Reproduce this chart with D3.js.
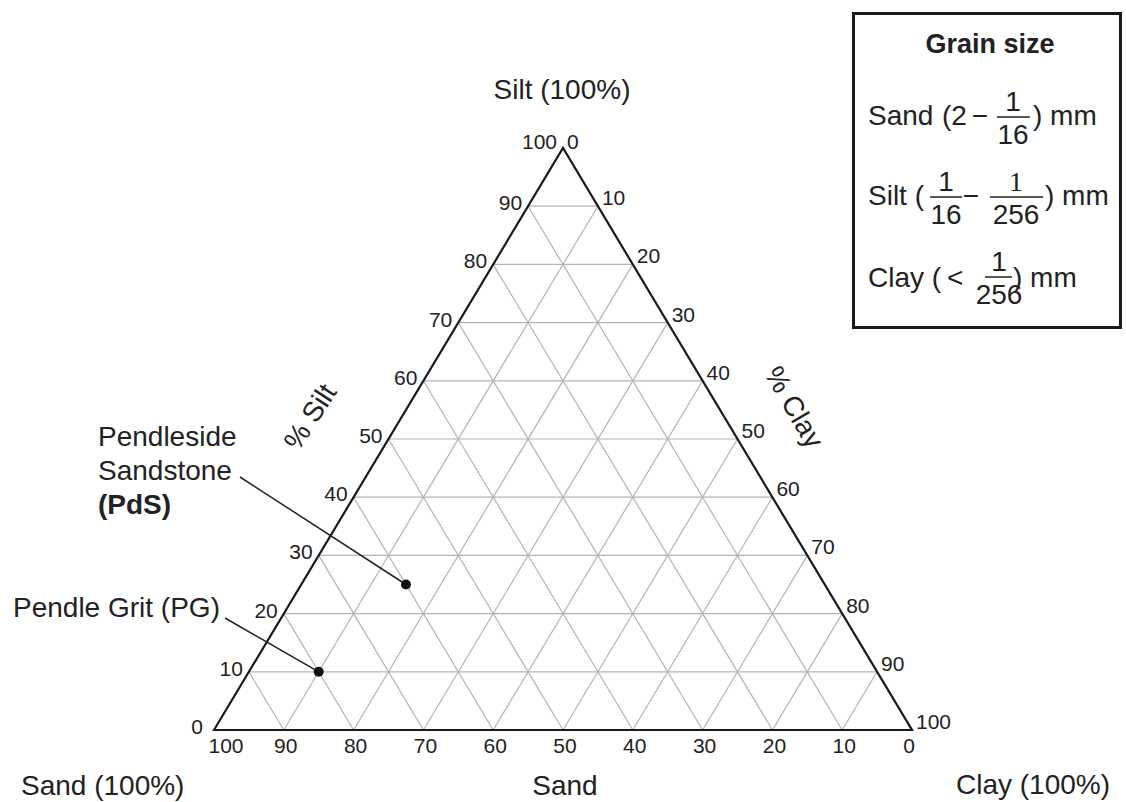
<!DOCTYPE html>
<html lang="en">
<head>
	<title>Ternary diagram - sand, silt, clay</title>
	<script src="https://d3js.org/d3.v7.min.js" charset="utf-8"></script>
	<style>
		body { margin: 0; background: #fff; }
		text {
			font-family: "Liberation Sans", Arial, sans-serif;
			fill: #222;
		}
	</style>
</head>

<body>
<script>
	// Chart data
	var tickValues = [0, 10, 20, 30, 40, 50, 60, 70, 80, 90, 100];
	var gridValues = [10, 20, 30, 40, 50, 60, 70, 80, 90];
	var sampleNames = ["Pendle Grit (PG)", "Pendleside Sandstone (PdS)"];
	var sampleSand = [80, 60];
	var sampleSilt = [10, 25];
	var sampleClay = [10, 15];

	var w = 1126;
	var h = 802;

	// x position comes from clay + silt/2, y from silt
	var xScale = d3.scaleLinear().domain([0, 100]).range([214, 912]);
	var yScale = d3.scaleLinear().domain([0, 100]).range([730, 148]);

	function px(clay, silt) { return xScale(clay + silt / 2); }
	function py(silt) { return yScale(silt); }

	var svg = d3.select("body")
		.append("svg")
		.attr("width", w)
		.attr("height", h);

	// Grid lines
	var grid = svg.append("g").attr("stroke", "#b3b3b3").attr("stroke-width", 1.2);
	gridValues.forEach(function(v) {
		// constant silt
		grid.append("line")
			.attr("x1", px(0, v)).attr("y1", py(v))
			.attr("x2", px(100 - v, v)).attr("y2", py(v));
		// constant clay
		grid.append("line")
			.attr("x1", px(v, 0)).attr("y1", py(0))
			.attr("x2", px(v, 100 - v)).attr("y2", py(100 - v));
		// constant sand
		grid.append("line")
			.attr("x1", px(100 - v, 0)).attr("y1", py(0))
			.attr("x2", px(0, 100 - v)).attr("y2", py(100 - v));
	});

	// Triangle outline
	svg.append("path")
		.attr("d", "M" + px(0, 0) + "," + py(0) + "L" + px(0, 100) + "," + py(100) + "L" + px(100, 0) + "," + py(0) + "Z")
		.attr("fill", "none")
		.attr("stroke", "#1a1a1a")
		.attr("stroke-width", 2.2)
		.attr("stroke-linejoin", "miter");

	// Bottom ticks (sand)
	svg.selectAll(".tickB")
		.data(tickValues)
		.enter()
		.append("text")
		.attr("x", function(d) { return px(100 - d, 0) + (d === 100 ? 12 : d === 0 ? -3 : 2); })
		.attr("y", 753)
		.attr("text-anchor", "middle")
		.attr("font-size", 21)
		.text(function(d) { return d; });

	// Left ticks (silt)
	svg.selectAll(".tickL")
		.data(tickValues)
		.enter()
		.append("text")
		.attr("x", function(d) { return px(0, d) - (d === 0 ? 11 : 6); })
		.attr("y", function(d) { return py(d) + (d === 100 ? 1 : 4); })
		.attr("text-anchor", "end")
		.attr("font-size", 21)
		.text(function(d) { return d; });

	// Right ticks (clay)
	svg.selectAll(".tickR")
		.data(tickValues)
		.enter()
		.append("text")
		.attr("x", function(d) { return px(d, 100 - d) + 4; })
		.attr("y", function(d) { return py(100 - d) + (d === 0 ? 1 : -1); })
		.attr("text-anchor", "start")
		.attr("font-size", 21)
		.text(function(d) { return d; });

	// Corner and axis labels
	svg.append("text").attr("x", 562).attr("y", 99).attr("text-anchor", "middle")
		.attr("font-size", 28).text("Silt (100%)");
	svg.append("text").attr("x", 21).attr("y", 795)
		.attr("font-size", 28).text("Sand (100%)");
	svg.append("text").attr("x", 565).attr("y", 795).attr("text-anchor", "middle")
		.attr("font-size", 28).text("Sand");
	svg.append("text").attr("x", 1110).attr("y", 794).attr("text-anchor", "end")
		.attr("font-size", 28).text("Clay (100%)");
	svg.append("text").attr("text-anchor", "middle").attr("font-size", 28)
		.attr("transform", "translate(318,422) rotate(-57)").text("% Silt");
	svg.append("text").attr("text-anchor", "middle").attr("font-size", 28)
		.attr("transform", "translate(786,412) rotate(60)").text("% Clay");

	// Sample points with leader lines
	var leaderStart = [[225, 618], [240, 477]];
	svg.selectAll(".leader")
		.data(sampleNames)
		.enter()
		.append("line")
		.attr("x1", function(d, i) { return leaderStart[i][0]; })
		.attr("y1", function(d, i) { return leaderStart[i][1]; })
		.attr("x2", function(d, i) { return px(sampleClay[i], sampleSilt[i]); })
		.attr("y2", function(d, i) { return py(sampleSilt[i]); })
		.attr("stroke", "#222")
		.attr("stroke-width", 1.5);

	svg.selectAll(".dot")
		.data(sampleNames)
		.enter()
		.append("circle")
		.attr("cx", function(d, i) { return px(sampleClay[i], sampleSilt[i]); })
		.attr("cy", function(d, i) { return py(sampleSilt[i]); })
		.attr("r", 5)
		.attr("fill", "#111");

	svg.append("text").attr("x", 13).attr("y", 617).attr("font-size", 28).text(sampleNames[0]);
	svg.append("text").attr("x", 98).attr("y", 446).attr("font-size", 28).text("Pendleside");
	svg.append("text").attr("x", 98).attr("y", 480).attr("font-size", 28).text("Sandstone");
	svg.append("text").attr("x", 98).attr("y", 514).attr("font-size", 28).attr("font-weight", "bold").text("(PdS)");

	// Grain size box
	svg.append("rect")
		.attr("x", 853.5).attr("y", 13.5)
		.attr("width", 267).attr("height", 314)
		.attr("fill", "#fff")
		.attr("stroke", "#1a1a1a")
		.attr("stroke-width", 3);

	svg.append("text").attr("x", 990).attr("y", 53).attr("text-anchor", "middle")
		.attr("font-size", 27).attr("font-weight", "bold").text("Grain size");

	function frac(cx, bar, x1, x2, num, den, numFont) {
		svg.append("line").attr("x1", x1).attr("x2", x2).attr("y1", bar).attr("y2", bar)
			.attr("stroke", "#222").attr("stroke-width", 1.5);
		svg.append("text").attr("x", cx).attr("y", bar - 6).attr("text-anchor", "middle")
			.attr("font-size", 28).style("font-family", numFont || null).text(num);
		svg.append("text").attr("x", cx).attr("y", bar + 27).attr("text-anchor", "middle")
			.attr("font-size", 28).text(den);
	}

	// Sand line
	svg.append("text").attr("x", 868).attr("y", 125).attr("font-size", 28).text("Sand");
	svg.append("text").attr("x", 942).attr("y", 125).attr("font-size", 28).text("(2");
	svg.append("text").attr("x", 980).attr("y", 125).attr("text-anchor", "middle").attr("font-size", 28).text("\u2212");
	frac(1013, 117, 997, 1030, "1", "16");
	svg.append("text").attr("x", 1033).attr("y", 125).attr("font-size", 28).text(") mm");

	// Silt line
	svg.append("text").attr("x", 868).attr("y", 205).attr("font-size", 28).text("Silt (");
	frac(946, 197, 930, 962, "1", "16");
	svg.append("text").attr("x", 971).attr("y", 205).attr("text-anchor", "middle").attr("font-size", 28).text("\u2212");
	frac(1016, 197, 990, 1043, "1", "256", "'Liberation Serif', 'Times New Roman', serif");
	svg.append("text").attr("x", 1045).attr("y", 205).attr("font-size", 28).text(") mm");

	// Clay line
	svg.append("text").attr("x", 868).attr("y", 287).attr("font-size", 28).text("Clay (");
	svg.append("text").attr("x", 947).attr("y", 287).attr("font-size", 28).text("<");
	frac(999, 277, 985, 1012, "1", "256");
	svg.append("text").attr("x", 1013).attr("y", 287).attr("font-size", 28).text(") mm");
</script>
</body>
</html>
